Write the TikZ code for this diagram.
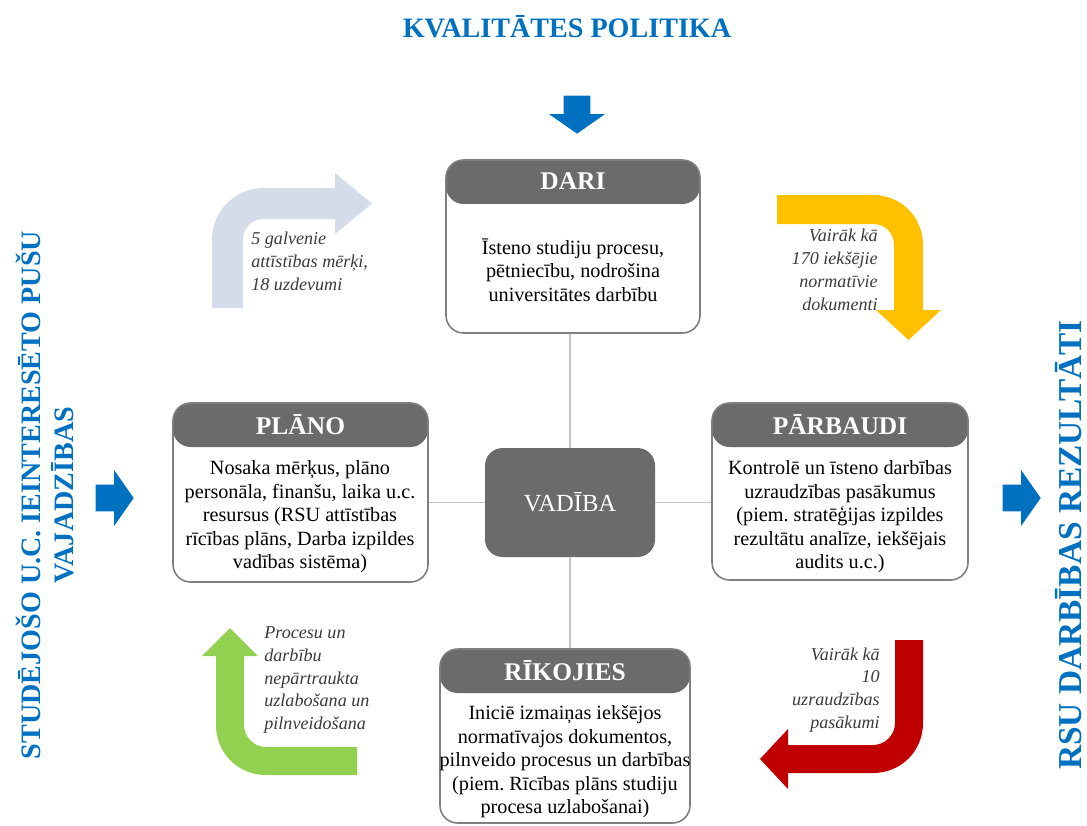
\documentclass[tikz,border=0pt]{standalone}
\usepackage{fontspec}
\setmainfont{Liberation Serif}
\usetikzlibrary{fit,shapes.arrows}
\definecolor{polblue}{HTML}{0070C0}
\definecolor{hdrgray}{HTML}{6B6B6B}
\definecolor{boxgray}{HTML}{7F7F7F}
\definecolor{linkgray}{HTML}{C4C4C4}
\definecolor{notegray}{HTML}{3A3A3A}
\definecolor{planarrow}{HTML}{D5DCE9}
\definecolor{doarrow}{HTML}{FFC000}
\definecolor{checkarrow}{HTML}{C00000}
\definecolor{actarrow}{HTML}{92D050}
\tikzset{
  pdcabox/.style={draw=boxgray,line width=0.9pt,rounded corners=10pt,inner sep=0pt,fill=white,
    path picture={\fill[hdrgray] (path picture bounding box.north west) rectangle ([yshift=-0.88cm]path picture bounding box.north east);}},
  hdrtext/.style={text=white,font=\fontsize{14.5}{16}\selectfont\bfseries},
  bodytext/.style={align=center,inner sep=0pt,font=\fontsize{11.5}{13.4}\selectfont},
  notetext/.style={inner sep=0pt,text=notegray,font=\fontsize{10.3}{13}\selectfont\itshape},
  sidetext/.style={text=polblue,align=center,font=\fontsize{16}{19}\selectfont\bfseries},
  blockarrow/.style={single arrow,fill=polblue,inner xsep=0pt,inner ysep=0.26cm,minimum height=0.76cm,
    single arrow head extend=0.29cm,single arrow tip angle=110},
  link/.style={draw=linkgray,line width=1pt}
}
\begin{document}
\frenchspacing
\begin{tikzpicture}[x=0.02cm,y=-0.02cm]
 \useasboundingbox (0,0) rectangle (1087,825);
 \node[sidetext] (policy) at (567,27) {KVALITĀTES POLITIKA};
 \node[sidetext,rotate=90] (needs) at (45,495) {STUDĒJOŠO U.C. IEINTERESĒTO PUŠU\\VAJADZĪBAS};
 \node[sidetext,font=\fontsize{19}{20}\selectfont\bfseries,rotate=90] (results) at (1069,545) {RSU DARBĪBAS REZULTĀTI};
 \node[blockarrow,rotate=-90] (inpolicy) at (577,110) {};
 \node[blockarrow] (inneeds) at (110,498) {};
 \node[blockarrow] (outresults) at (1017,498) {};

 \node[pdcabox,fit={(446,160) (700,333)}] (dari) {};
 \node[pdcabox,fit={(173,403) (428,582)}] (plano) {};
 \node[pdcabox,fit={(712,403) (968,580)}] (parb) {};
 \node[pdcabox,fit={(440,649) (690,823)}] (rik) {};
 \node[draw=none,fill=hdrgray,rounded corners=10pt,inner sep=0pt,fit={(485,448) (655,557)}] (vad) {};
 \node[text=white,font=\fontsize{14}{16}\selectfont] (vad-t) at (vad.center) {VADĪBA};

 \draw[link] (vad.north) -- (vad.north |- dari.south);
 \draw[link] (vad.south) -- (vad.south |- rik.north);
 \draw[link] (vad.west) -- (vad.west -| plano.east);
 \draw[link] (vad.east) -- (vad.east -| parb.west);

 \node[hdrtext] (dari-t) at ([yshift=-0.44cm]dari.north) {DARI};
 \node[hdrtext] (plano-t) at ([yshift=-0.44cm]plano.north) {PLĀNO};
 \node[hdrtext] (parb-t) at ([yshift=-0.44cm]parb.north) {PĀRBAUDI};
 \node[hdrtext] (rik-t) at ([yshift=-0.44cm]rik.north) {RĪKOJIES};

 \node[bodytext] (dari-b) at (573,270) {Īsteno studiju procesu,\\pētniecību, nodrošina\\universitātes darbību};
 \node[bodytext] (plano-b) at (300,517) {Nosaka mērķus, plāno\\personāla, finanšu, laika u.c.\\resursus (RSU attīstības\\rīcības plāns, Darba izpildes\\vadības sistēma)};
 \node[bodytext] (parb-b) at (840,517) {Kontrolē un īsteno darbības\\uzraudzības pasākumus\\(piem. stratēģijas izpildes\\rezultātu analīze, iekšējais\\audits u.c.)};
 \node[bodytext] (rik-b) at (565,762) {Iniciē izmaiņas iekšējos\\normatīvajos dokumentos,\\pilnveido procesus un darbības\\(piem. Rīcības plāns studiju\\procesa uzlabošanai)};

 \fill[planarrow] (212,308) -- (212,240) .. controls (212,211) and (235,188) .. (264,188) -- (335,188) -- (335,173) -- (372,203.5) -- (335,234) -- (335,219) -- (264,219) .. controls (252,219) and (243,228) .. (243,240) -- (243,308) -- cycle;
 \fill[doarrow] (777,195) -- (873,195) .. controls (901,195) and (923,217) .. (923,245) -- (923,310) -- (941,310) -- (908.5,340) -- (876,310) -- (894,310) -- (894,245) .. controls (894,233) and (885,224) .. (873,224) -- (777,224) -- cycle;
 \fill[checkarrow] (895,640) -- (923,640) -- (923,723) .. controls (923,751) and (901,773) .. (873,773) -- (788,773) -- (788,789) -- (760,759) -- (788,729) -- (788,745) -- (873,745) .. controls (885,745) and (895,735) .. (895,723) -- cycle;
 \fill[actarrow] (357,747) -- (357,775) -- (266,775) .. controls (238,775) and (216,753) .. (216,725) -- (216,656) -- (202,656) -- (230,628) -- (258,656) -- (244,656) -- (244,725) .. controls (244,737) and (254,747) .. (266,747) -- cycle;

 \node[notetext,anchor=west,align=left] (goals) at (251,261) {5 galvenie\\attīstības mērķi,\\18 uzdevumi};
 \node[notetext,anchor=east,align=right] (docs) at (878,270) {Vairāk kā\\170 iekšējie\\normatīvie\\dokumenti};
 \node[notetext,anchor=east,align=right] (checks) at (880,690) {Vairāk kā\\10\\uzraudzības\\pasākumi};
 \node[notetext,anchor=west,align=left] (improve) at (264,680) {Procesu un\\darbību\\nepārtraukta\\uzlabošana un\\pilnveidošana};
\end{tikzpicture}
\end{document}
